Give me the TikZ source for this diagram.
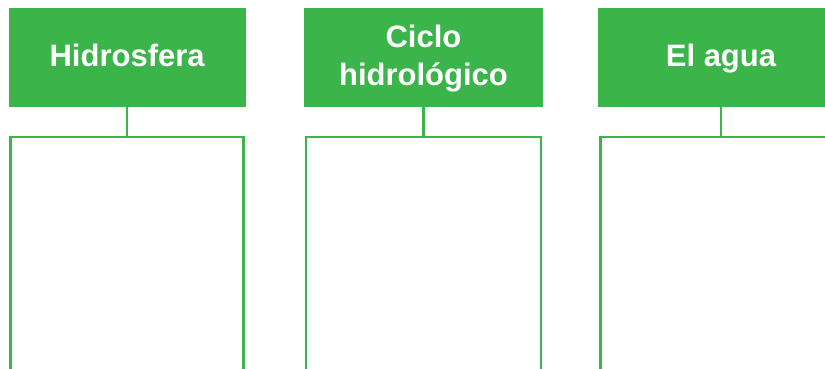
\documentclass[tikz,border=0pt]{standalone}
\usepackage{fontspec}
\setmainfont{Liberation Sans}
\definecolor{hgreen}{RGB}{59,181,74}
\begin{document}
\begin{tikzpicture}[x=1pt,y=-1pt,
  header/.style={rectangle, fill=hgreen, text=white, font=\fontsize{31}{38}\selectfont\bfseries, align=center, inner sep=0pt, minimum height=99pt, text height=22.2pt, text depth=5pt},
  panel/.style={rectangle, draw=hgreen, line width=2.5pt, inner sep=0pt, minimum height=290pt},
  link/.style={draw=hgreen, line width=2.5pt}]
\useasboundingbox (0,0) rectangle (825,368);
\clip (0,0) rectangle (825,368);
\node[header, minimum width=237pt] (h1) at (127.1,57.6) {Hidrosfera};
\node[header, minimum width=238.4pt, text height=60.2pt] (h2) at (423.5,57.6) {Ciclo\\hidrológico};
\node[header, minimum width=246pt] (h3) at (721,57.6) {El agua};
\node[panel, minimum width=233pt] (p1) at (127.1,282) {};
\node[panel, minimum width=235pt] (p2) at (423.5,282) {};
\node[panel, minimum width=241pt] (p3) at (721,282) {};
\draw[link] (h1.south) -- (p1.north);
\draw[link] (h2.south) -- (p2.north);
\draw[link] (h3.south) -- (p3.north);
\end{tikzpicture}
\end{document}
